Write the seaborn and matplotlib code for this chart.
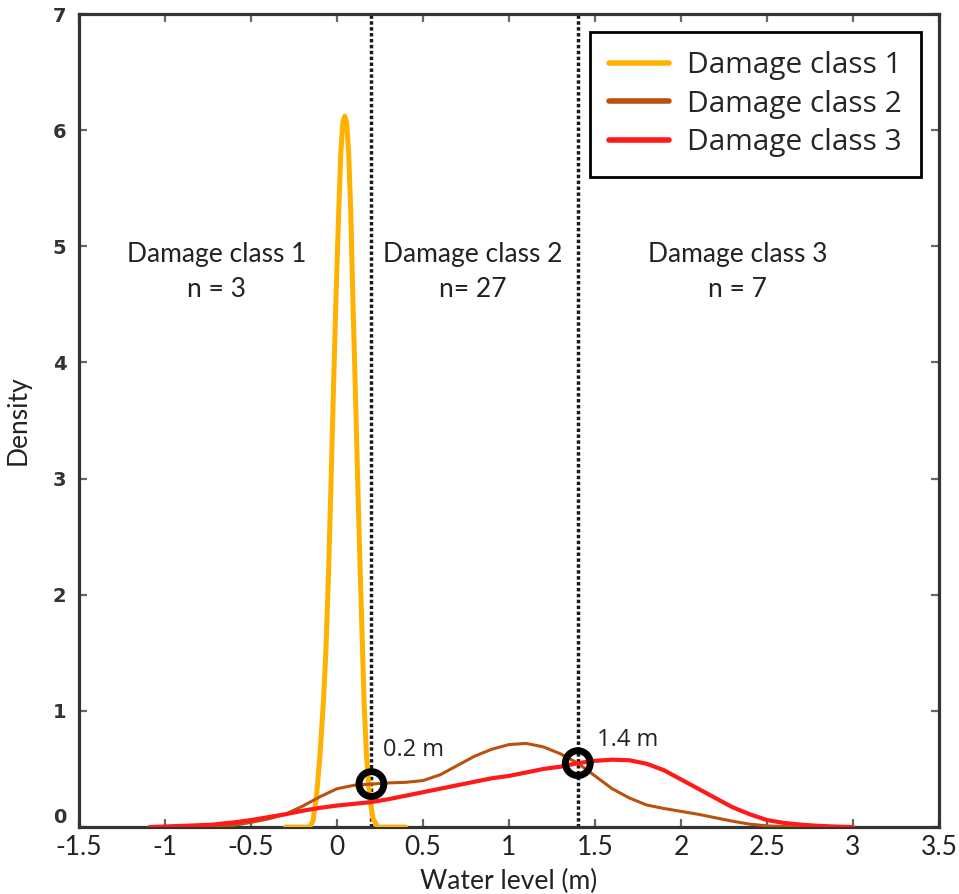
import matplotlib
matplotlib.use("Agg")
import matplotlib.pyplot as plt
import pandas as pd
import seaborn as sns

# Kernel density curves of water level per damage class
class_names = ["Damage class 1", "Damage class 2", "Damage class 3"]

level_c1 = [-0.30, -0.16, -0.14, -0.12, -0.10, -0.08, -0.065, -0.05, -0.035, -0.02,
            -0.005, 0.01, 0.022, 0.034, 0.045, 0.056, 0.068, 0.08, 0.093, 0.106,
            0.12, 0.133, 0.145, 0.158, 0.172, 0.19, 0.21, 0.236, 0.40]
dens_c1 = [0.0, 0.0, 0.05, 0.25, 0.6, 1.05, 1.5, 2.15, 2.95, 3.8,
           4.6, 5.3, 5.8, 6.07, 6.12, 6.07, 5.8, 5.3, 4.5, 3.8,
           3.0, 2.3, 1.7, 1.05, 0.6, 0.25, 0.07, 0.0, 0.0]

level_c2 = [-0.75, -0.6, -0.5, -0.4, -0.3, -0.2, -0.1, 0.0, 0.1, 0.2, 0.3, 0.4,
            0.5, 0.6, 0.7, 0.8, 0.9, 1.0, 1.1, 1.2, 1.3, 1.4, 1.5, 1.6, 1.7, 1.8,
            1.9, 2.0, 2.1, 2.2, 2.3, 2.4, 2.5, 2.6, 2.75]
dens_c2 = [0.0, 0.015, 0.04, 0.07, 0.11, 0.18, 0.26, 0.33, 0.36, 0.37, 0.38, 0.385,
           0.40, 0.45, 0.53, 0.61, 0.67, 0.71, 0.72, 0.69, 0.63, 0.55, 0.44, 0.33, 0.25, 0.19,
           0.16, 0.135, 0.11, 0.08, 0.05, 0.025, 0.01, 0.004, 0.0]

level_c3 = [-1.09, -0.9, -0.73, -0.6, -0.5, -0.4, -0.3, -0.2, -0.1, 0.0, 0.1, 0.2,
            0.3, 0.4, 0.5, 0.6, 0.7, 0.8, 0.9, 1.0, 1.1, 1.2, 1.3, 1.4, 1.5, 1.6,
            1.7, 1.8, 1.9, 2.0, 2.1, 2.2, 2.3, 2.4, 2.5, 2.6, 2.7, 2.8, 2.9, 3.0]
dens_c3 = [0.0, 0.01, 0.02, 0.04, 0.06, 0.085, 0.11, 0.14, 0.165, 0.185, 0.2, 0.215,
           0.24, 0.27, 0.30, 0.33, 0.36, 0.39, 0.42, 0.44, 0.47, 0.50, 0.52, 0.55, 0.57, 0.58,
           0.575, 0.545, 0.49, 0.41, 0.33, 0.25, 0.17, 0.11, 0.06, 0.035, 0.02, 0.01, 0.004, 0.0]

# Class thresholds (intersection points of the densities)
thresholds = [0.2, 1.4]
threshold_dens = [0.37, 0.55]
threshold_labels = ["0.2 m", "1.4 m"]
threshold_label_x = [0.27, 1.51]
threshold_label_y = [0.66, 0.75]

# Region annotations
region_x = [-0.70, 0.79, 2.33]
region_text = ["Damage class 1\nn = 3", "Damage class 2\nn= 27", "Damage class 3\nn = 7"]

x_ticks = [-1.5, -1, -0.5, 0, 0.5, 1, 1.5, 2, 2.5, 3, 3.5]
x_ticklabels = ["-1.5", "-1", "-0.5", "0", "0.5", "1", "1.5", "2", "2.5", "3", "3.5"]
y_ticks = [0, 1, 2, 3, 4, 5, 6, 7]

palette = {"Damage class 1": "#FFB000",
           "Damage class 2": "#B9520F",
           "Damage class 3": "#FF1A1A"}
widths = {"Damage class 1": 3.6, "Damage class 2": 2.2, "Damage class 3": 3.0}

frames = []
for name, xs, ys in zip(class_names, [level_c1, level_c2, level_c3],
                        [dens_c1, dens_c2, dens_c3]):
    frames.append(pd.DataFrame({"level": xs, "density": ys, "cls": name}))
df = pd.concat(frames, ignore_index=True)

sns.set_theme(style="white")
plt.rcParams["font.family"] = ["Lato", "DejaVu Sans"]

fig = plt.figure(figsize=(9.59, 8.94), dpi=100)
ax = fig.add_axes([0.0824, 0.0749, 0.8967, 0.9094])

# Threshold lines
for t in thresholds:
    ax.axvline(t, color="#1a1a1a", lw=2.5, ls=(0, (1.0, 0.7)), zorder=1)

for name in class_names:
    sub = df[df["cls"] == name]
    sns.lineplot(data=sub, x="level", y="density", color=palette[name],
                 lw=widths[name], estimator=None, sort=False, ax=ax,
                 label=name, zorder=3, solid_capstyle="round",
                 solid_joinstyle="round")

sns.scatterplot(x=thresholds, y=threshold_dens, s=320, facecolor="none",
                edgecolor="black", linewidth=5.0, ax=ax, zorder=5, legend=False)

for xl, yl, lab in zip(threshold_label_x, threshold_label_y, threshold_labels):
    ax.text(xl, yl, lab, fontsize=17, family=["Open Sans", "DejaVu Sans"],
            color="#222222", ha="left", va="center")

for xr, txt in zip(region_x, region_text):
    ax.text(xr, 4.78, txt, fontsize=19, ha="center", va="center",
            linespacing=1.5, color="#222222")

ax.set_xlim(-1.5, 3.5)
ax.set_ylim(0, 7)
ax.set_xticks(x_ticks)
ax.set_xticklabels(x_ticklabels, fontsize=19, color="#222222")
ax.set_yticks(y_ticks)
ax.set_yticklabels([str(v) for v in y_ticks], fontsize=14, fontweight="bold",
                   family=["DejaVu Sans"], color="#333333")
ax.get_yticklabels()[0].set_va("bottom")
ax.tick_params(axis="both", direction="in", length=5.5, width=1.6, color="#666666",
               top=True, right=True, bottom=True, left=True)
ax.tick_params(axis="x", pad=6)
ax.tick_params(axis="y", pad=9)
ax.set_xlabel("Water level (m)", fontsize=19, color="#222222", labelpad=6)
ax.set_ylabel("Density", fontsize=19, color="#222222", labelpad=16)

for sp in ax.spines.values():
    sp.set_color("#333333")
    sp.set_linewidth(2.3)
    sp.set_visible(True)

leg = ax.legend(loc="upper right", frameon=True, fancybox=False,
                edgecolor="black", framealpha=1, handlelength=2.0,
                borderaxespad=0.6, borderpad=0.65, labelspacing=0.32,
                handletextpad=0.6,
                prop={"family": ["Open Sans", "DejaVu Sans"], "size": 21.5})
leg.get_frame().set_linewidth(2.0)
for line in leg.get_lines():
    line.set_linewidth(4.0)

fig.savefig("out.png", dpi=100)
